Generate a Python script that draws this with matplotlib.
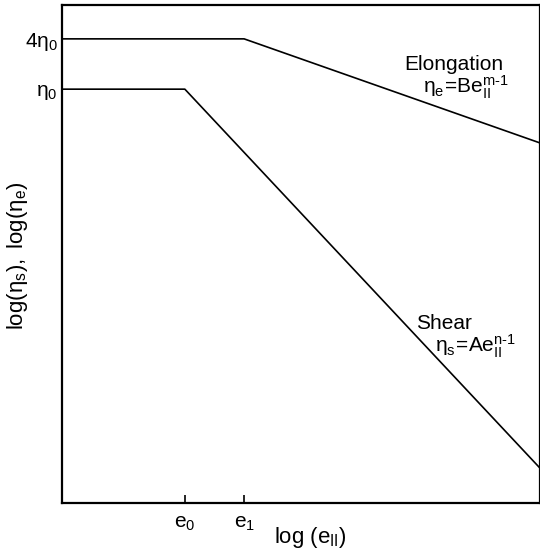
import matplotlib
matplotlib.use("Agg")
import matplotlib.pyplot as plt

plt.rcParams["font.family"] = ["Liberation Sans", "DejaVu Sans"]
plt.rcParams["mathtext.fontset"] = "custom"
plt.rcParams["mathtext.rm"] = "Liberation Sans"
plt.rcParams["mathtext.it"] = "Liberation Sans:italic"

# log-space coordinates (arbitrary units, 0..10)
elong_x = [0.0, 3.81, 10.0]
elong_y = [9.32, 9.32, 7.23]
shear_x = [0.0, 2.57, 10.0]
shear_y = [8.31, 8.31, 0.70]

xtick_pos = [2.57, 3.81]
xtick_labels = [r"$\mathregular{e_0}$", r"$\mathregular{e_1}$"]
ytick_pos = [8.31, 9.32]
ytick_labels = [r"$\mathregular{η_0}$", r"$\mathregular{4η_0}$"]

fig = plt.figure(figsize=(5.4, 5.52), dpi=100)
ax = fig.add_axes([62 / 540, 1 - 503 / 552, 478 / 540, 498 / 552])

ax.plot(elong_x, elong_y, color="black", lw=1.2)
ax.plot(shear_x, shear_y, color="black", lw=1.2)

ax.set_xlim(0, 10)
ax.set_ylim(0, 10)

ax.set_xticks(xtick_pos)
ax.set_xticklabels(xtick_labels, fontsize=15)
ax.set_yticks(ytick_pos)
ax.set_yticklabels(ytick_labels, fontsize=15)
ax.tick_params(axis="x", direction="in", length=6, width=1.2, pad=8)
ax.tick_params(axis="y", length=0, pad=3)

for s in ax.spines.values():
    s.set_linewidth(1.6)

# axis titles placed in figure pixels so they sit where the sketch has them
fig.text(310 / 540, 1 - 538 / 552, r"log $\mathregular{(e_{II})}$",
         fontsize=16, ha="center", va="center")
fig.text(18 / 540, 1 - 256 / 552, r"$\mathregular{log(η_s),\ log(η_e)}$",
         fontsize=16, ha="center", va="center", rotation=90)

# curve annotations
ax.text(7.15, 8.8, "Elongation", fontsize=15, ha="left", va="center")
ax.text(7.55, 8.35, r"$\mathregular{η_e\!=\!Be_{II}^{m\text{-}1}}$",
        fontsize=15, ha="left", va="center")
ax.text(7.4, 3.6, "Shear", fontsize=15, ha="left", va="center")
ax.text(7.8, 3.15, r"$\mathregular{η_s\!=\!Ae_{II}^{n\text{-}1}}$",
        fontsize=15, ha="left", va="center")

fig.savefig("out.png", dpi=100)
